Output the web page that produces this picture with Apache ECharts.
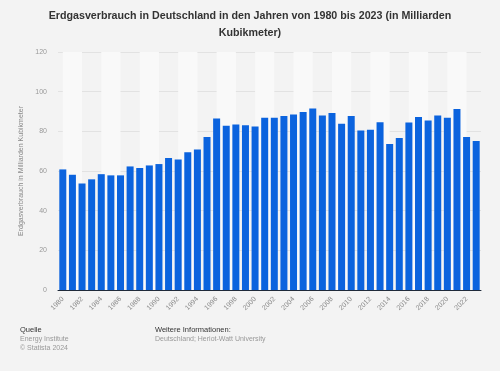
<!DOCTYPE html>
<html>
<head>
<meta charset="utf-8">
<script src="https://cdn.jsdelivr.net/npm/echarts@6/dist/echarts.min.js"></script>
<style>
html,body{margin:0;padding:0;background:#f3f3f3;}
#c{width:500px;height:371px;}
</style>
</head>
<body>
<div id="c"></div>
<script>
const years = ['1980','1981','1982','1983','1984','1985','1986','1987','1988','1989','1990','1991','1992','1993','1994','1995','1996','1997','1998','1999','2000','2001','2002','2003','2004','2005','2006','2007','2008','2009','2010','2011','2012','2013','2014','2015','2016','2017','2018','2019','2020','2021','2022','2023'];
const consumption = [60.8,58.1,53.7,55.8,58.4,57.8,57.8,62.3,61.5,62.8,63.5,66.5,65.8,69.5,70.9,77.1,86.5,82.8,83.5,83.1,82.5,86.8,86.8,87.7,88.5,89.8,91.5,88.0,89.2,83.8,87.7,80.4,80.8,84.6,73.6,76.6,84.5,87.2,85.5,88.0,86.8,91.2,77.1,75.1];
const yTicks = [0,20,40,60,80,100,120];
const titleLines = ['Erdgasverbrauch in Deutschland in den Jahren von 1980 bis 2023 (in Milliarden', 'Kubikmeter)'];

const stripes = [];
for (let i = 0; i + 2 < years.length; i += 4) {
  stripes.push([{xAxis: years[i]}, {xAxis: years[i + 2]}]);
}

const chart = echarts.init(document.getElementById('c'), null, {renderer:'canvas'});
const font = 'Arial, "Liberation Sans", Helvetica, sans-serif';
chart.setOption({
  backgroundColor: '#f3f3f3',
  animation: false,
  textStyle: {fontFamily: font},
  grid: {left: 58, right: 19, top: 52, bottom: 81},
  xAxis: {
    type: 'category',
    data: years,
    axisLine: {lineStyle: {color: '#1f2a3a', width: 1}},
    axisTick: {show: false},
    axisLabel: {interval: 1, rotate: 45, fontSize: 7, color: '#888', margin: 8, fontFamily: font},
    splitLine: {show: false}
  },
  yAxis: {
    type: 'value',
    min: yTicks[0],
    max: yTicks[yTicks.length - 1],
    interval: 20,
    name: 'Erdgasverbrauch in Milliarden Kubikmeter',
    nameLocation: 'middle',
    nameGap: 28,
    nameTextStyle: {fontSize: 7, color: '#888', fontFamily: font},
    axisLine: {show: false},
    axisTick: {show: false},
    axisLabel: {fontSize: 7, color: '#999', margin: 11, fontFamily: font},
    splitLine: {lineStyle: {color: '#e2e2e2', width: 1}}
  },
  series: [
    {
      type: 'line',
      data: consumption,
      z: 0,
      silent: true,
      symbol: 'none',
      lineStyle: {opacity: 0},
      markArea: {
        silent: true,
        itemStyle: {color: '#f9f9f9'},
        data: stripes
      }
    },
    {
      type: 'bar',
      data: consumption,
      z: 3,
      barWidth: 7,
      itemStyle: {color: '#0b63de'}
    }
  ],
  graphic: [
    {type: 'text', x: 250, y: 11, style: {text: titleLines[0], textAlign: 'center', fontSize: 10.7, fontWeight: 'bold', fill: '#333', fontFamily: font}},
    {type: 'text', x: 250, y: 28, style: {text: titleLines[1], textAlign: 'center', fontSize: 10.7, fontWeight: 'bold', fill: '#333', fontFamily: font}},
    {type: 'text', left: 20, top: 326, style: {text: 'Quelle', fontSize: 7.5, fill: '#333', fontFamily: font}},
    {type: 'text', left: 20, top: 336, style: {text: 'Energy Institute', fontSize: 7, fill: '#999', fontFamily: font}},
    {type: 'text', left: 20, top: 345, style: {text: '© Statista 2024', fontSize: 7, fill: '#999', fontFamily: font}},
    {type: 'text', left: 155, top: 326, style: {text: 'Weitere Informationen:', fontSize: 7.5, fill: '#333', fontFamily: font}},
    {type: 'text', left: 155, top: 336, style: {text: 'Deutschland; Heriot-Watt University', fontSize: 7, fill: '#999', fontFamily: font}}
  ]
});
</script>
</body>
</html>
